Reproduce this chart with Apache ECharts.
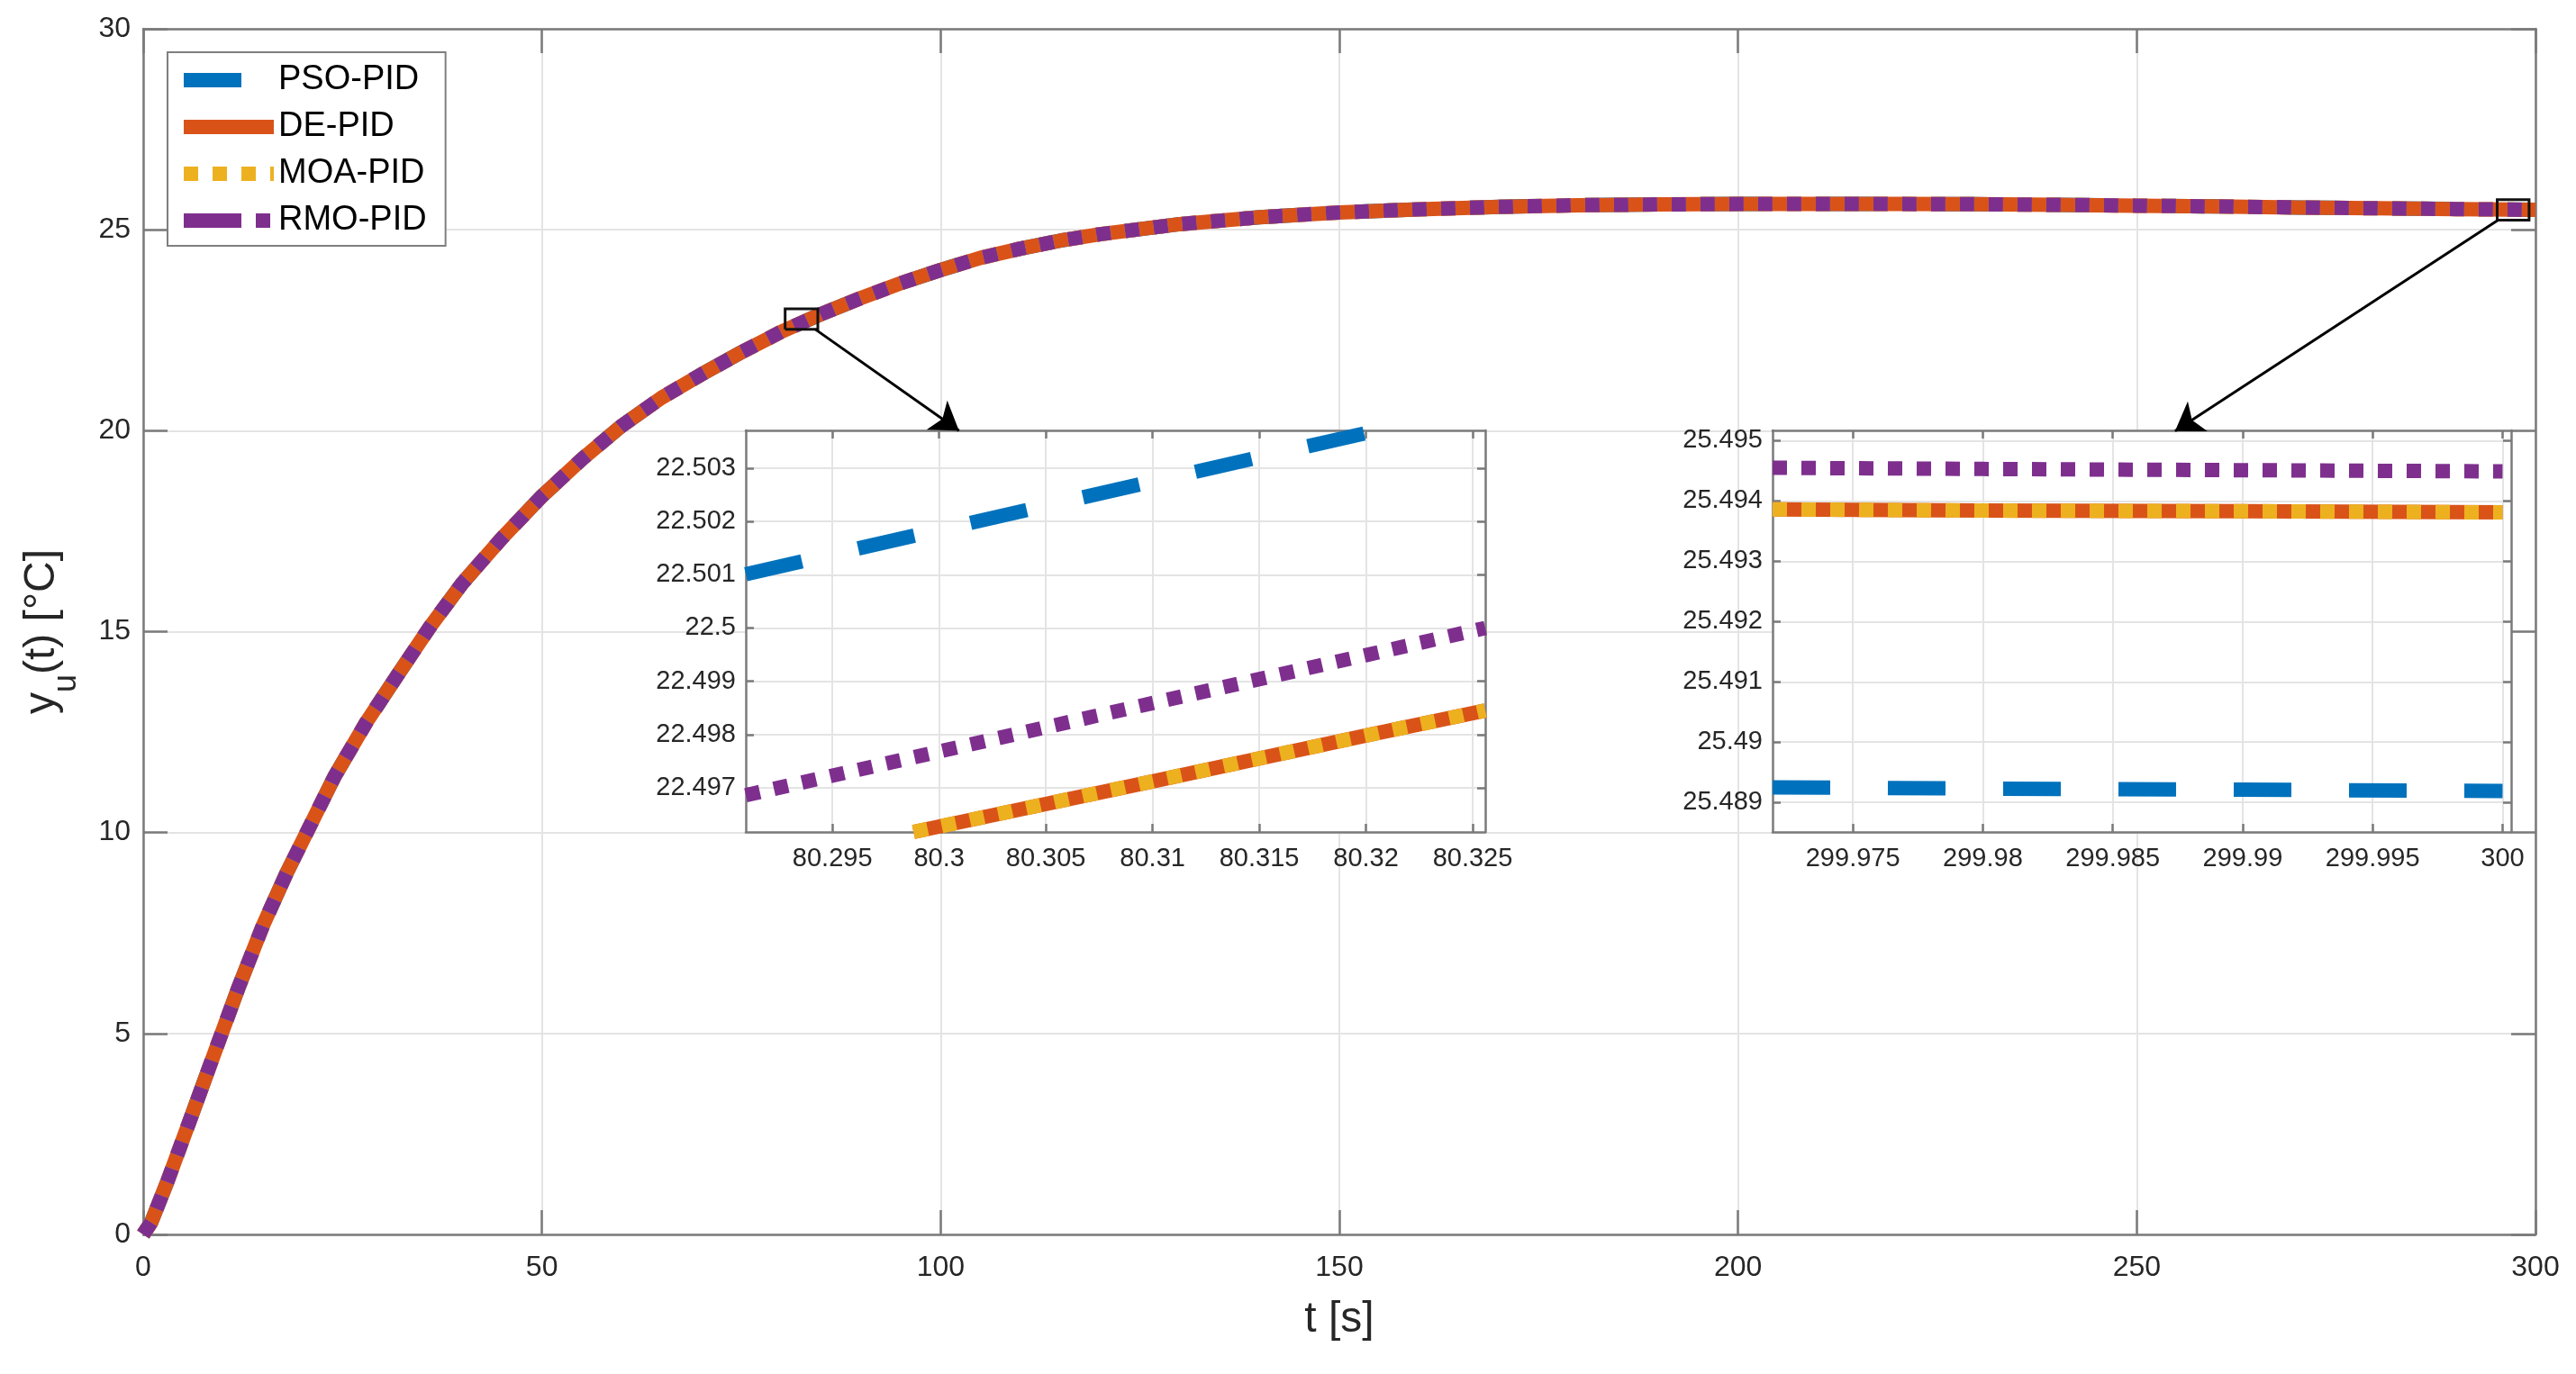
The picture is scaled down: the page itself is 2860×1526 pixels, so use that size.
<!DOCTYPE html>
<html>
<head>
<meta charset="utf-8">
<title>PID response</title>
<script src="https://cdn.jsdelivr.net/npm/echarts@6/dist/echarts.min.js"></script>
<style>
  html, body { margin: 0; padding: 0; background: #fff; }
  #chart { width: 2860px; height: 1526px; }
</style>
</head>
<body>
<div id="chart"></div>
<script>
// ---- data ----
const seriesNames = ['PSO-PID', 'DE-PID', 'MOA-PID', 'RMO-PID'];

// main view: the four responses overlap completely at this scale
const timeMain = [0, 1, 3, 6, 9, 12, 15, 18, 21, 24, 28, 32, 36, 40, 45, 50, 55, 60, 65, 70,
  75, 80, 85, 90, 95, 100, 105, 110, 115, 120, 130, 140, 150, 160, 170, 180, 190, 200,
  210, 220, 230, 240, 250, 260, 270, 280, 290, 300];
const responseMain = [0, 0.3, 1.3, 2.92, 4.55, 6.17, 7.68, 9.0, 10.2, 11.4, 12.75, 13.95, 15.13,
  16.2, 17.33, 18.37, 19.29, 20.12, 20.82, 21.4, 21.95, 22.46, 22.9, 23.3, 23.67, 24.0, 24.3,
  24.53, 24.73, 24.89, 25.14, 25.31, 25.43, 25.51, 25.57, 25.61, 25.63, 25.64, 25.645, 25.64,
  25.635, 25.62, 25.6, 25.58, 25.555, 25.535, 25.515, 25.494];

// zoom 1 (around t = 80.3 s), each trace cut where it leaves the inset box
const zoom1TimePSO = [80.29094, 80.3, 80.31, 80.32];
const zoom1PSO = [22.50101, 22.50184, 22.50275, 22.50366];
const zoom1TimeDE = [80.2988, 80.31, 80.32, 80.32559];
const zoom1DE = [22.49617, 22.49712, 22.49798, 22.49845];
const zoom1TimeMOA = [80.2988, 80.31, 80.32, 80.32559];
const zoom1MOA = [22.49617, 22.49712, 22.49798, 22.49845];
const zoom1TimeRMO = [80.29094, 80.3, 80.31, 80.32, 80.32559];
const zoom1RMO = [22.49686, 22.49768, 22.49859, 22.49949, 22.5];

// zoom 2 (end of the run)
const zoom2Time = [299.97191, 299.98, 299.99, 300];
const zoom2PSO = [25.48925, 25.48923, 25.48921, 25.48919];
const zoom2DE = [25.49386, 25.49384, 25.49383, 25.49381];
const zoom2MOA = [25.49386, 25.49384, 25.49383, 25.49381];
const zoom2RMO = [25.49455, 25.49453, 25.49451, 25.49449];

// tick labels / axis ranges
const zoom1XTicks = [80.295, 80.3, 80.305, 80.31, 80.315, 80.32, 80.325];
const zoom1YTicks = [22.497, 22.498, 22.499, 22.5, 22.501, 22.502, 22.503];
const zoom1XRange = [80.29094, 80.32559];
const zoom1YRange = [22.49617, 22.50371];
const zoom2XTicks = [299.975, 299.98, 299.985, 299.99, 299.995, 300];
const zoom2YTicks = [25.489, 25.49, 25.491, 25.492, 25.493, 25.494, 25.495];
const zoom2XRange = [299.97191, 300.00033];
const zoom2YRange = [25.48851, 25.49517];

// marker boxes on the main curve and the arrows to the insets (main axis units)
const markBoxes = [[80.5, 22.52, 84.6, 23.03], [295.2, 25.24, 299.2, 25.75]];
const arrowLinks = [[[84.3, 22.52], [102.3, 20.0]], [[295.3, 25.24], [254.8, 19.99]]];

// ---- styles ----
const lineLook = {
  'PSO-PID': { color: '#0072BD', type: [64, 64] },
  'DE-PID': { color: '#D95319', type: 'solid' },
  'MOA-PID': { color: '#EDB120', type: [16, 16] },
  'RMO-PID': { color: '#7E2F8E', type: [16, 16] }
};
const legendDash = { 'RMO-PID': [64, 16, 16, 16] };
const FONT = 'Liberation Sans, Arial, Helvetica, sans-serif';
const TXT = '#262626';
const AXC = '#7a7a7a';
const GRIDC = '#e4e4e4';

const pair = (xs, ys) => xs.map((x, i) => [x, ys[i]]);
const fmt = v => String(+(+v).toFixed(3));

const chart = echarts.init(document.getElementById('chart'));

function boxAxis(opt) {
  // one side of an axes box
  const a = {
    type: 'value',
    gridIndex: opt.grid,
    position: opt.position,
    min: opt.range[0],
    max: opt.range[1],
    z: opt.z || 0,
    axisLine: { show: true, onZero: false, lineStyle: { color: AXC, width: 2.5 } },
    axisTick: { show: true, inside: true, length: opt.tickLen, lineStyle: { color: AXC, width: 2.5 } },
    axisLabel: { show: !!opt.labels },
    splitLine: { show: !!opt.split, lineStyle: { color: GRIDC, width: 2 } }
  };
  if (opt.interval) a.interval = opt.interval;
  if (opt.ticks) a.axisTick.customValues = opt.ticks;
  if (opt.labels) {
    a.axisLabel = {
      show: true, color: TXT, fontFamily: FONT, fontSize: opt.fontSize, margin: opt.margin,
      formatter: fmt
    };
    if (opt.ticks) a.axisLabel.customValues = opt.ticks;
  }
  return a;
}

const xAxes = [
  Object.assign(boxAxis({ grid: 0, position: 'bottom', range: [0, 300], interval: 50, tickLen: 27,
    labels: true, split: true, fontSize: 32, margin: 21 }), {
    name: 't [s]', nameLocation: 'middle', nameGap: 70,
    nameTextStyle: { fontFamily: FONT, fontSize: 48, color: TXT, lineHeight: 50 }
  }),
  boxAxis({ grid: 0, position: 'top', range: [0, 300], interval: 50, tickLen: 27 }),
  boxAxis({ grid: 1, position: 'bottom', range: zoom1XRange, ticks: zoom1XTicks, tickLen: 9,
    labels: true, split: true, fontSize: 29, margin: 15, z: 6 }),
  boxAxis({ grid: 1, position: 'top', range: zoom1XRange, ticks: zoom1XTicks, tickLen: 9, z: 6 }),
  boxAxis({ grid: 2, position: 'bottom', range: zoom2XRange, ticks: zoom2XTicks, tickLen: 9,
    labels: true, split: true, fontSize: 29, margin: 15, z: 6 }),
  boxAxis({ grid: 2, position: 'top', range: zoom2XRange, ticks: zoom2XTicks, tickLen: 9, z: 6 })
];

const yAxes = [
  Object.assign(boxAxis({ grid: 0, position: 'left', range: [0, 30], interval: 5, tickLen: 27,
    labels: true, split: true, fontSize: 32, margin: 14 }), {
    name: '{a|y}{b|u}{a|(t) [°C]}', nameLocation: 'middle', nameRotate: 90, nameGap: 67,
    nameTextStyle: {
      rich: {
        a: { fontFamily: FONT, fontSize: 48, color: TXT, lineHeight: 90, verticalAlign: 'middle' },
        b: { fontFamily: FONT, fontSize: 36, color: TXT, lineHeight: 90, verticalAlign: 'bottom' }
      }
    }
  }),
  boxAxis({ grid: 0, position: 'right', range: [0, 30], interval: 5, tickLen: 27 }),
  boxAxis({ grid: 1, position: 'left', range: zoom1YRange, ticks: zoom1YTicks, tickLen: 9,
    labels: true, split: true, fontSize: 29, margin: 11, z: 6 }),
  boxAxis({ grid: 1, position: 'right', range: zoom1YRange, ticks: zoom1YTicks, tickLen: 9, z: 6 }),
  boxAxis({ grid: 2, position: 'left', range: zoom2YRange, ticks: zoom2YTicks, tickLen: 9,
    labels: true, split: true, fontSize: 29, margin: 11, z: 6 }),
  boxAxis({ grid: 2, position: 'right', range: zoom2YRange, ticks: zoom2YTicks, tickLen: 9, z: 6 })
];

function curve(name, data, axisIdx, z) {
  const look = lineLook[name];
  return {
    name: name,
    type: 'line',
    xAxisIndex: axisIdx,
    yAxisIndex: axisIdx,
    data: data,
    symbol: 'none',
    smooth: false,
    clip: axisIdx === 0,
    z: z,
    lineStyle: { color: look.color, width: 16, type: look.type, cap: 'butt', join: 'round' },
    itemStyle: { color: look.color },
    emphasis: { disabled: true },
    silent: true
  };
}

const series = [];
seriesNames.forEach(n => series.push(curve(n, pair(timeMain, responseMain), 0, 2)));
series.push(curve('PSO-PID', pair(zoom1TimePSO, zoom1PSO), 2, 7));
series.push(curve('DE-PID', pair(zoom1TimeDE, zoom1DE), 2, 7));
series.push(curve('MOA-PID', pair(zoom1TimeMOA, zoom1MOA), 2, 7));
series.push(curve('RMO-PID', pair(zoom1TimeRMO, zoom1RMO), 2, 7));
series.push(curve('PSO-PID', pair(zoom2Time, zoom2PSO), 4, 7));
series.push(curve('DE-PID', pair(zoom2Time, zoom2DE), 4, 7));
series.push(curve('MOA-PID', pair(zoom2Time, zoom2MOA), 4, 7));
series.push(curve('RMO-PID', pair(zoom2Time, zoom2RMO), 4, 7));

series.push({
  type: 'lines',
  coordinateSystem: 'cartesian2d',
  xAxisIndex: 0,
  yAxisIndex: 0,
  polyline: true,
  silent: true,
  z: 8,
  lineStyle: { color: '#111', width: 3, opacity: 1 },
  data: markBoxes.map(b => ({
    coords: [[b[0], b[1]], [b[2], b[1]], [b[2], b[3]], [b[0], b[3]], [b[0], b[1]]]
  }))
});
series.push({
  type: 'lines',
  coordinateSystem: 'cartesian2d',
  xAxisIndex: 0,
  yAxisIndex: 0,
  silent: true,
  z: 8,
  symbol: ['none', 'arrow'],
  symbolSize: 30,
  lineStyle: { color: '#000', width: 3, opacity: 1 },
  data: arrowLinks.map(c => ({ coords: c }))
});

chart.setOption({
  animation: false,
  backgroundColor: '#fff',
  grid: [
    { left: 159, right: 45, top: 32, bottom: 155 },
    { left: 828, top: 478, width: 821, height: 446, show: true, backgroundColor: '#fff', borderWidth: 0, z: 5 },
    { left: 1968, top: 478, width: 820, height: 446, show: true, backgroundColor: '#fff', borderWidth: 0, z: 5 }
  ],
  legend: {
    data: seriesNames.map(n => ({
      name: n,
      itemStyle: { opacity: 0 },
      lineStyle: { color: lineLook[n].color, width: 16, type: legendDash[n] || lineLook[n].type, cap: 'butt', opacity: 1 }
    })),
    orient: 'vertical',
    left: 186,
    top: 58,
    padding: [9, 21, 6, 10],
    itemWidth: 100,
    itemHeight: 16,
    itemGap: 8,
    selectedMode: false,
    backgroundColor: '#fff',
    borderColor: '#7f7f7f',
    borderWidth: 2,
    textStyle: { fontFamily: FONT, fontSize: 38, lineHeight: 44, color: '#000' },
    z: 10
  },
  xAxis: xAxes,
  yAxis: yAxes,
  series: series
});
</script>
</body>
</html>
